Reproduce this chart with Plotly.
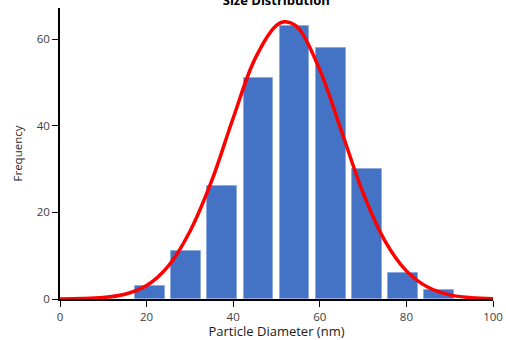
import plotly.graph_objects as go

# Histogram bins (centre of each 8.33 nm bin) and their counts
bin_centers = [20.83, 29.17, 37.5, 45.83, 54.17, 62.5, 70.83, 79.17, 87.5]
counts = [3, 11, 26, 51, 63, 58, 30, 6, 2]

# Fitted distribution curve, sampled along the diameter axis
fit_x = [0, 5, 10, 15, 20, 25, 30, 35, 40, 45, 50, 52, 55, 60, 65, 70, 75, 80, 85, 90, 95, 100]
fit_y = [0.02, 0.09, 0.35, 1.1, 3.1, 7.6, 15.6, 27.2, 41.8, 55.4, 63.2, 64.0, 62.6, 52.9,
         38.8, 24.5, 13.5, 6.5, 2.7, 0.95, 0.3, 0.08]

x_ticks = [0, 20, 40, 60, 80, 100]
y_ticks = [0, 20, 40, 60]

font_family = "Open Sans"

fig = go.Figure()
fig.add_trace(go.Bar(
    x=bin_centers, y=counts, width=6.9,
    marker=dict(color="#4472C4", line=dict(color="#8FAADC", width=1)),
    showlegend=False,
))
fig.add_trace(go.Scatter(
    x=fit_x, y=fit_y, mode="lines",
    line=dict(color="#FF0000", width=3.5, shape="spline", smoothing=1.0),
    showlegend=False, cliponaxis=False,
))

fig.update_layout(
    width=506, height=340,
    margin=dict(l=60, r=13, t=8, b=41, autoexpand=False),
    paper_bgcolor="white", plot_bgcolor="white",
    font=dict(family=font_family, size=11.5, color="#404040"),
    title=dict(text="<b>Size Distribution</b>", x=0.546, xanchor="center",
               y=1.0, yref="container", yanchor="middle",
               font=dict(family=font_family, size=13, color="#000000")),
    bargap=0,
)
fig.update_xaxes(
    range=[0, 100], tickvals=x_ticks, ticks="outside", ticklen=6,
    tickcolor="black", showline=True, linecolor="black", linewidth=1.5,
    showgrid=False, zeroline=False, automargin=False,
    tickfont=dict(size=11.5),
    title=dict(text="Particle Diameter (nm)", standoff=5,
               font=dict(family=font_family, size=13, color="#1a1a1a")),
)
fig.update_yaxes(
    range=[0, 67.2], tickvals=y_ticks, ticks="outside", ticklen=6,
    tickcolor="black", showline=True, linecolor="black", linewidth=1.5,
    showgrid=False, zeroline=False, automargin=False,
    title=dict(text="Frequency", standoff=12,
               font=dict(family=font_family, size=11.5, color="#262626")),
)

fig.write_html("out.html")
